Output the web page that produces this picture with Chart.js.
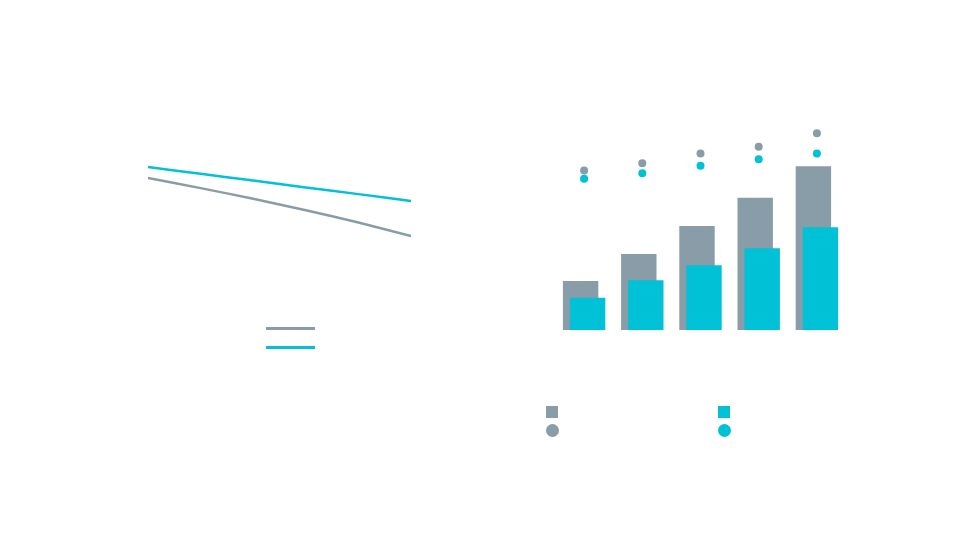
<!DOCTYPE html>
<html lang="en">
<head>
  <meta charset="UTF-8">
  <title>Trend and bars</title>
  <script src="https://cdn.jsdelivr.net/npm/chart.js"></script>
  <style>
    body { margin: 0; width: 960px; height: 540px; background: #fff; position: relative; overflow: hidden; font-family: "Open Sans", sans-serif; }
    .box { position: absolute; }
    .key { position: absolute; }
  </style>
</head>
<body>
  <div class="box" style="left:148px; top:140px; width:263px; height:120px;"><canvas id="lineChart"></canvas></div>
  <div class="box" style="left:555px; top:120px; width:291px; height:210px;"><canvas id="barChart"></canvas></div>

  <!-- left legend -->
  <div class="key" style="left:266px; top:327px; width:49px; height:2.5px; background:#889DA7;"></div>
  <div class="key" style="left:266px; top:346px; width:49px; height:2.5px; background:#00C1D5;"></div>

  <!-- right legend -->
  <div class="key" style="left:546px; top:406px; width:12px; height:12px; background:#889DA7;"></div>
  <div class="key" style="left:546px; top:424px; width:13px; height:13px; border-radius:50%; background:#889DA7;"></div>
  <div class="key" style="left:718px; top:406px; width:12px; height:12px; background:#00C1D5;"></div>
  <div class="key" style="left:718px; top:424px; width:13px; height:13px; border-radius:50%; background:#00C1D5;"></div>

  <script>
    const grey = '#889DA7';
    const cyan = '#00C1D5';

    // left chart
    const lineLabels = ['1', '2', '3', '4', '5', '6'];
    const greyLine = [68.3, 59.9, 51.0, 41.5, 31.2, 20.0];
    const cyanLine = [77.5, 71.8, 66.2, 60.5, 54.9, 49.2];

    // right chart
    const barLabels = ['1', '2', '3', '4', '5'];
    const greyBars = [23.3, 36.2, 49.5, 63.0, 78.0];
    const cyanBars = [15.4, 23.7, 30.8, 38.9, 48.9];
    const greyDots = [75.9, 79.4, 84.1, 87.3, 93.7];
    const cyanDots = [72.0, 74.6, 78.2, 81.3, 84.0];

    const yAxis = { display: false, min: 0, max: 100 };

    new Chart(document.getElementById('lineChart'), {
      type: 'line',
      data: {
        labels: lineLabels,
        datasets: [
          { data: greyLine, borderColor: grey, borderWidth: 2.5, pointRadius: 0, tension: 0.3 },
          { data: cyanLine, borderColor: cyan, borderWidth: 2.5, pointRadius: 0, tension: 0.3 }
        ]
      },
      options: {
        responsive: true,
        maintainAspectRatio: false,
        animation: false,
        layout: { padding: 0, autoPadding: false },
        scales: { x: { display: false, offset: false }, y: yAxis },
        plugins: { legend: { display: false }, tooltip: { enabled: false } }
      }
    });

    // bars overlap: the cyan bar sits a little right of the grey one and on top of it
    // (negative percentages flip the group so the top-drawn dataset lands on the right)
    new Chart(document.getElementById('barChart'), {
      type: 'bar',
      data: {
        labels: barLabels,
        datasets: [
          { type: 'line', data: greyDots, showLine: false, pointRadius: 4, pointBackgroundColor: grey, pointBorderWidth: 0, clip: false, order: 0 },
          { type: 'line', data: cyanDots, showLine: false, pointRadius: 4, pointBackgroundColor: cyan, pointBorderWidth: 0, clip: false, order: 0 },
          { data: greyBars, backgroundColor: grey, borderWidth: 0, order: 2 },
          { data: cyanBars, backgroundColor: cyan, borderWidth: 0, order: 1 }
        ]
      },
      options: {
        responsive: true,
        maintainAspectRatio: false,
        animation: false,
        layout: { padding: 0, autoPadding: false },
        datasets: { bar: { categoryPercentage: -0.2405, barPercentage: -5.06 } },
        scales: { x: { display: false }, y: yAxis },
        plugins: { legend: { display: false }, tooltip: { enabled: false } }
      }
    });
  </script>
</body>
</html>
